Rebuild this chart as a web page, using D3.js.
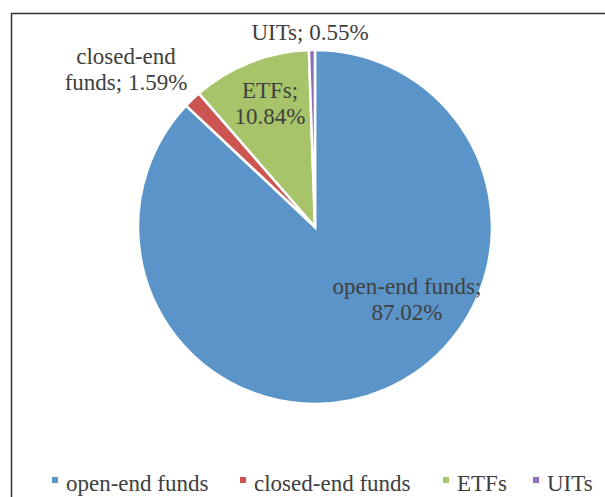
<!DOCTYPE html>
<html><head><meta charset="utf-8">
<script src="https://cdn.jsdelivr.net/npm/d3@7/dist/d3.min.js"></script>
<style>body{margin:0;background:#fff}svg{display:block}</style>
</head><body>
<svg id="c" width="605" height="497"></svg>
<script>
const categories = ["open-end funds", "closed-end funds", "ETFs", "UITs"];
const values = [87.02, 1.59, 10.84, 0.55];
const colors = ["#5b94c9", "#cc5552", "#a8c46a", "#8e70b4"];
const labelLines = [["open-end funds;", "87.02%"], ["closed-end", "funds; 1.59%"], ["ETFs;", "10.84%"], ["UITs; 0.55%"]];

const svg = d3.select("#c");
const font = "'Liberation Serif', 'DejaVu Serif', serif";
// frame
svg.append("path").attr("d", "M11.5,497 L11.5,13.5 L605,13.5").attr("fill","none").attr("stroke","#333").attr("stroke-width",1.5);

const cx = 315, cy = 227, r = 177;
const pie = d3.pie().sort(null).value(d => d);
const arcs = pie(values);
const arc = d3.arc().innerRadius(0).outerRadius(r);
const g = svg.append("g").attr("transform", `translate(${cx},${cy})`);
g.selectAll("path").data(arcs).enter().append("path")
  .attr("d", arc).attr("fill", (d,i) => colors[i])
  .attr("stroke", "#fff").attr("stroke-width", 2.5).attr("stroke-linejoin","miter");

// labels
const labelPos = [[407, 287], [126, 57], [270, 91], [310, 33]];
const lh = 26;
const fs = 23;
labelLines.forEach((lines, i) => {
  const t = svg.append("text").attr("font-family", font).attr("font-size", fs)
    .attr("fill", "#404040").attr("text-anchor", "middle");
  lines.forEach((ln, j) => {
    t.append("tspan").attr("x", labelPos[i][0]).attr("y", labelPos[i][1] + j*lh + 7).text(ln);
  });
});

// legend
const legX = [52, 240, 443, 533];
const lg = svg.append("g");
categories.forEach((c, i) => {
  lg.append("rect").attr("x", legX[i]).attr("y", 477).attr("width", 6).attr("height", 6).attr("fill", colors[i]);
  lg.append("text").attr("x", legX[i] + 14).attr("y", 491).attr("font-family", font).attr("font-size", fs)
    .attr("fill", "#404040").text(c);
});
</script>
</body></html>
